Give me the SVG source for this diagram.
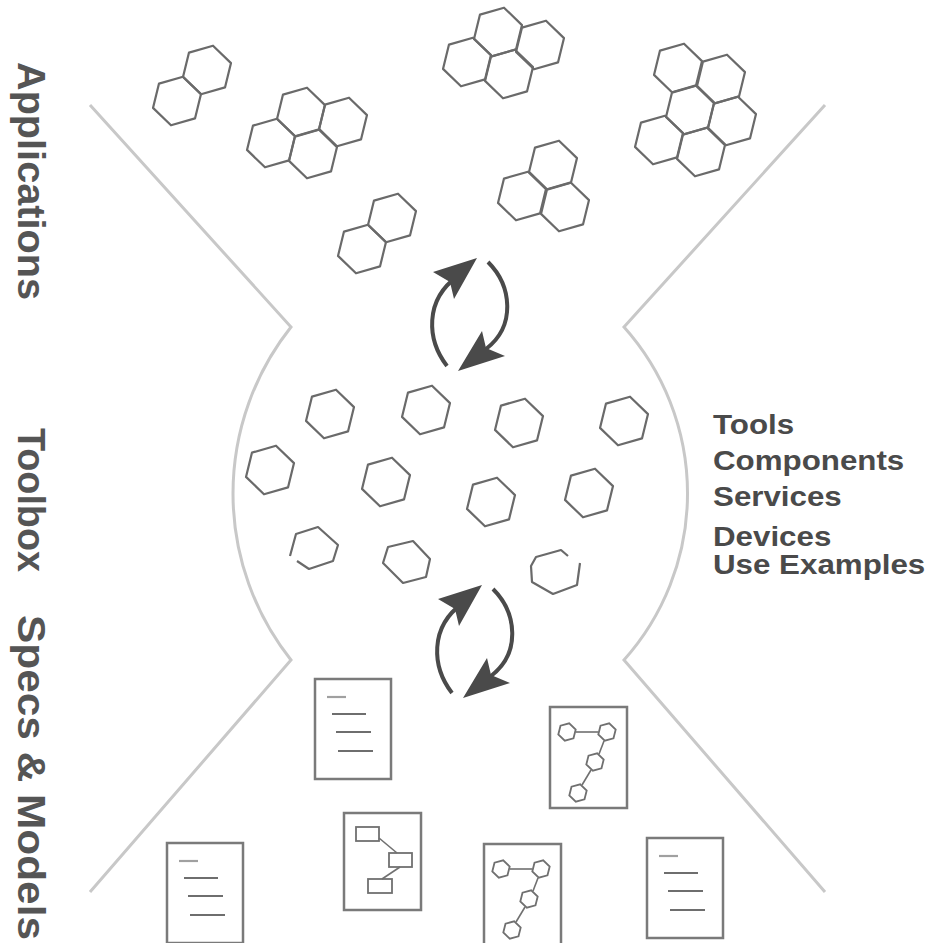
<svg xmlns="http://www.w3.org/2000/svg" xmlns:xlink="http://www.w3.org/1999/xlink" width="931" height="943" viewBox="0 0 931 943">
  <style>
    .funnel { fill: none; stroke: #c8c8c8; stroke-width: 3; stroke-linejoin: miter; }
    .hex { fill: none; stroke: #6a6a6a; stroke-width: 2.2; stroke-linejoin: round; }
    .arc { fill: none; stroke: #4a4a4a; stroke-width: 4; stroke-linecap: butt; }
    .head { fill: #4a4a4a; stroke: none; }
    .doc { fill: #ffffff; stroke: #7a7a7a; stroke-width: 2.5; }
    .rule { stroke: #6e6e6e; stroke-width: 2.2; }
    .rule.light { stroke: #a0a0a0; }
    .mini { fill: none; stroke: #707070; stroke-width: 1.8; }
    .link { stroke: #707070; stroke-width: 1.6; }
    .side { font-family: "Liberation Sans", Arial, sans-serif; font-weight: bold; font-size: 38px; fill: #555555; }
    .list { font-family: "Liberation Sans", Arial, sans-serif; font-weight: bold; font-size: 27px; fill: #4a4a4a; }
  </style>
  <defs>
    <polygon id="hx" points="24,-6.9 18,17.4 -6,24.3 -24,6.9 -18,-17.4 6,-24.3"/>
    <polygon id="mhx" points="8.7,-2.5 6.5,6.3 -2.2,8.7 -8.7,2.5 -6.5,-6.3 2.2,-8.7"/>
    <!-- a pair of curved arrows forming a cycle -->
    <g id="cycle">
      <path class="arc" d="M447,366 C427,340 424,300 458,276"/>
      <polygon class="head" points="477,258 433,272 450,282 454,299"/>
      <path class="arc" d="M488,262 C512,286 516,326 486,349"/>
      <polygon class="head" points="458,371 482,331 486,348 505,356"/>
    </g>
    <!-- text page -->
    <g id="page">
      <rect class="doc" x="0" y="0" width="76" height="100"/>
      <line class="rule light" x1="12" y1="18" x2="31" y2="18"/>
      <line class="rule" x1="17" y1="35" x2="51" y2="35"/>
      <line class="rule" x1="21" y1="53" x2="56" y2="53"/>
      <line class="rule" x1="23" y1="72" x2="58" y2="72"/>
    </g>
    <!-- page with chained hexagons -->
    <g id="hexpage">
      <rect class="doc" x="0" y="0" width="77" height="101"/>
      <use href="#mhx" class="mini" x="17" y="25"/>
      <use href="#mhx" class="mini" x="57" y="25"/>
      <use href="#mhx" class="mini" x="45" y="55"/>
      <use href="#mhx" class="mini" x="28" y="86"/>
      <line class="link" x1="26" y1="25" x2="48" y2="25"/>
      <line class="link" x1="54" y1="34" x2="49" y2="47"/>
      <line class="link" x1="41" y1="63" x2="32" y2="78"/>
    </g>
  </defs>

  <!-- funnel outline -->
  <g id="funnel">
    <path class="funnel" d="M90,105 L291,327 A268,268 0 0 0 291,660 L90,892"/>
    <path class="funnel" d="M825,105 L624,327 A250,250 0 0 1 624,660 L825,892"/>
  </g>

  <!-- application clusters -->
  <g id="app-1" class="hex">
    <use href="#hx" x="207" y="70"/>
    <use href="#hx" x="177" y="101"/>
  </g>
  <g id="app-2" class="hex">
    <use href="#hx" x="301" y="112"/>
    <use href="#hx" x="343" y="122"/>
    <use href="#hx" x="271" y="143"/>
    <use href="#hx" x="313" y="154"/>
  </g>
  <g id="app-3" class="hex">
    <use href="#hx" x="498" y="32"/>
    <use href="#hx" x="540" y="45"/>
    <use href="#hx" x="467" y="62"/>
    <use href="#hx" x="509" y="74"/>
  </g>
  <g id="app-4" class="hex">
    <use href="#hx" x="678" y="68"/>
    <use href="#hx" x="721" y="79"/>
    <use href="#hx" x="690" y="110"/>
    <use href="#hx" x="732" y="121"/>
    <use href="#hx" x="659" y="140"/>
    <use href="#hx" x="701" y="152"/>
  </g>
  <g id="app-5" class="hex">
    <use href="#hx" x="553" y="165"/>
    <use href="#hx" x="522" y="196"/>
    <use href="#hx" x="565" y="207"/>
  </g>
  <g id="app-6" class="hex">
    <use href="#hx" x="392" y="218"/>
    <use href="#hx" x="362" y="249"/>
  </g>

  <!-- toolbox parts -->
  <g id="toolbox" class="hex">
    <use href="#hx" x="330" y="414"/>
    <use href="#hx" x="426" y="410"/>
    <use href="#hx" x="519" y="423"/>
    <use href="#hx" x="624" y="421"/>
    <use href="#hx" x="270" y="470"/>
    <use href="#hx" x="386" y="482"/>
    <use href="#hx" x="491" y="502"/>
    <use href="#hx" x="589" y="493"/>
    <path d="M297,561 L309,569 L333,561 L338,545 L318,527 L296,534 L290,556"/>
    <polygon points="388,547 413,541 430,559 426,577 403,583 383,563"/>
    <path d="M580,563 L577,585 L553,594 L532,582 L531,566 L536,557 L561,550 L568,556"/>
  </g>

  <!-- exchange arrows -->
  <g id="connectors">
    <use href="#cycle"/>
    <use href="#cycle" x="5" y="327"/>
  </g>

  <!-- specifications and models -->
  <g id="spec-1"><use href="#page" x="315" y="679"/></g>
  <g id="spec-2"><use href="#hexpage" x="550" y="707"/></g>
  <g id="spec-3">
    <rect class="doc" x="344" y="813" width="77" height="97"/>
    <rect class="mini" x="356" y="827" width="23" height="14"/>
    <rect class="mini" x="389" y="853" width="23" height="14"/>
    <rect class="mini" x="368" y="879" width="24" height="14"/>
    <line class="link" x1="379" y1="838" x2="397" y2="853"/>
    <line class="link" x1="400" y1="867" x2="382" y2="879"/>
  </g>
  <g id="spec-4"><use href="#hexpage" x="484" y="844"/></g>
  <g id="spec-5"><use href="#page" x="167" y="843"/></g>
  <g id="spec-6"><use href="#page" x="647" y="838"/></g>

  <!-- layer captions -->
  <g id="captions">
    <text class="side" transform="translate(18,62) rotate(90)" textLength="238" lengthAdjust="spacingAndGlyphs">Applications</text>
    <text class="side" transform="translate(18,428) rotate(90)" textLength="144" lengthAdjust="spacingAndGlyphs">Toolbox</text>
    <text class="side" transform="translate(18,615) rotate(90)" textLength="325" lengthAdjust="spacingAndGlyphs">Specs &amp; Models</text>
  </g>

  <g id="toolbox-list" transform="translate(713,0) scale(1.16,1)">
    <text class="list" x="0" y="434">Tools</text>
    <text class="list" x="0" y="470">Components</text>
    <text class="list" x="0" y="506">Services</text>
    <text class="list" x="0" y="546">Devices</text>
    <text class="list" x="0" y="574">Use Examples</text>
  </g>
</svg>
